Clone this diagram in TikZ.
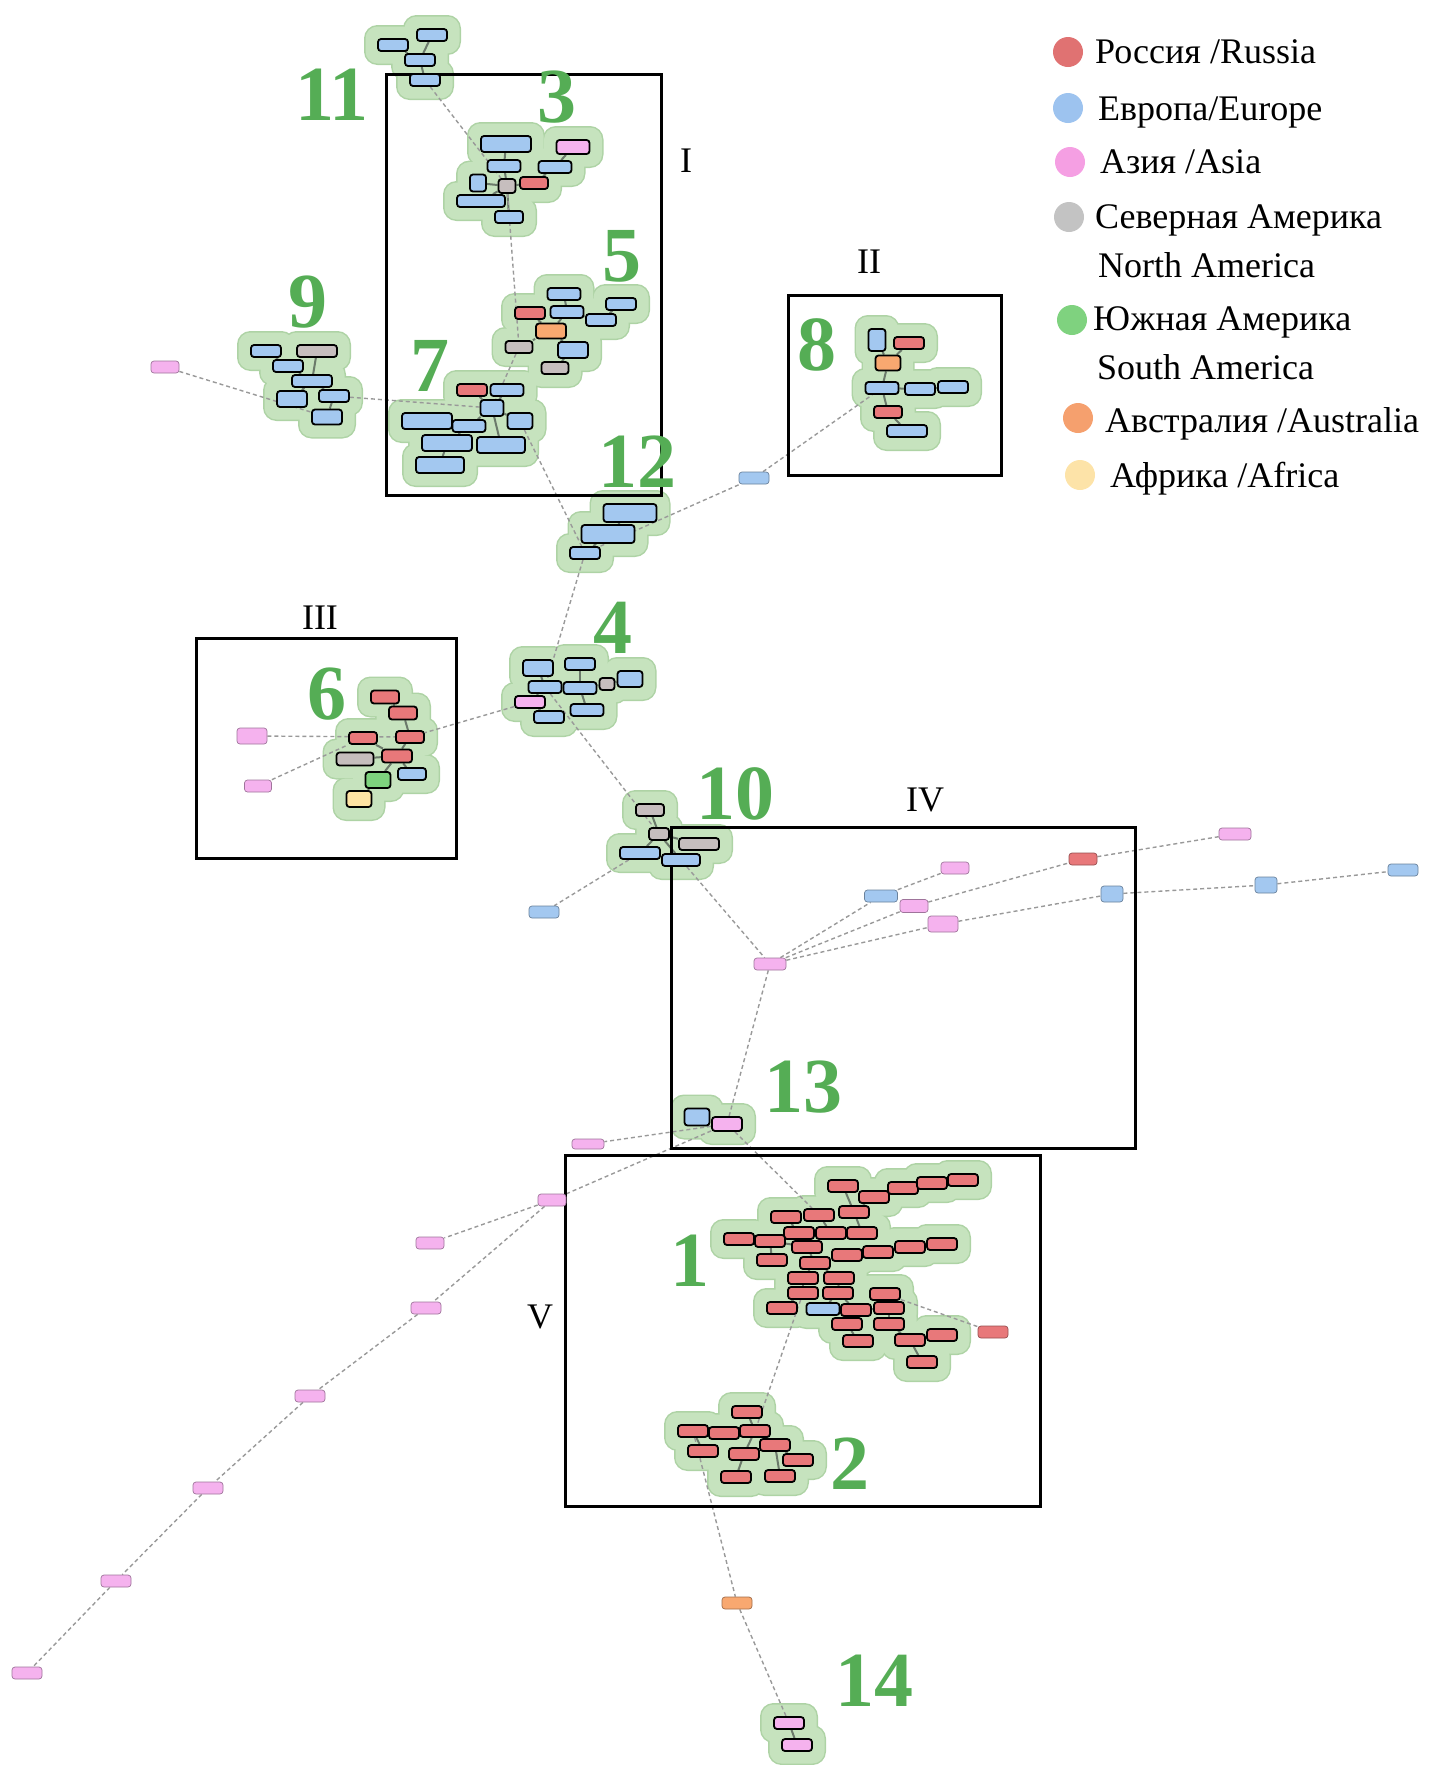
\documentclass[tikz,border=0pt]{standalone}
\usepackage{fontspec}
\setmainfont{Liberation Serif}
\pgfdeclarelayer{hl}\pgfdeclarelayer{hf}\pgfdeclarelayer{ed}
\pgfsetlayers{hl,hf,ed,main}
\definecolor{ru}{HTML}{E8787A}
\definecolor{eu}{HTML}{A3C8F0}
\definecolor{as}{HTML}{F5B2EE}
\definecolor{na}{HTML}{C6BEBE}
\definecolor{sa}{HTML}{7ED37E}
\definecolor{au}{HTML}{F8A870}
\definecolor{af}{HTML}{FDE3A3}
\definecolor{dru}{HTML}{E07272}
\definecolor{deu}{HTML}{9DC3EF}
\definecolor{das}{HTML}{F59FE3}
\definecolor{dna}{HTML}{C3C3C3}
\definecolor{dsa}{HTML}{7FD27F}
\definecolor{dau}{HTML}{F5A06E}
\definecolor{daf}{HTML}{FDE3A8}
\definecolor{halof}{HTML}{C6E3BE}
\definecolor{halod}{HTML}{AED3A5}
\definecolor{tedgec}{HTML}{6B7A6B}
\definecolor{numg}{HTML}{55AD55}
\tikzset{
  haloL/.style={rectangle,draw=halod,fill=halod,line width=3pt,rounded corners=12pt,inner sep=0pt},
  haloF/.style={rectangle,fill=halof,draw=none,rounded corners=12pt,inner sep=0pt},
  cnode/.style={rectangle,draw=black,line width=1.8pt,rounded corners=3pt,inner sep=0pt},
  snode/.style={rectangle,line width=0.7pt,rounded corners=3pt,inner sep=0pt},
  tedge/.style={draw=tedgec,line width=2pt},
  dedge/.style={draw=gray!80,line width=1.4pt,dash pattern=on 4pt off 3pt},
  bignum/.style={text=numg,font=\fontsize{78}{82}\selectfont\bfseries,inner sep=0pt},
  roman/.style={font=\fontsize{36}{40}\selectfont,inner sep=0pt},
  legtext/.style={font=\fontsize{36}{40}\selectfont,anchor=base west,inner sep=0pt},
  framebox/.style={draw=black,line width=3pt}
}
\newcommand\cn[6]{%
  \begin{pgfonlayer}{hl}\node[haloL,minimum width=#4pt+25pt,minimum height=#5pt+25pt] at (#2,#3) {};\end{pgfonlayer}%
  \begin{pgfonlayer}{hf}\node[haloF,minimum width=#4pt+25pt,minimum height=#5pt+25pt] at (#2,#3) {};\end{pgfonlayer}%
  \node[cnode,fill=#6,minimum width=#4pt,minimum height=#5pt] (#1) at (#2,#3) {};}
\newcommand\sn[6]{\node[snode,fill=#6,draw=#6!65!black,minimum width=#4pt,minimum height=#5pt] (#1) at (#2,#3) {};}
\begin{document}
\begin{tikzpicture}[x=1pt,y=-1pt]
\useasboundingbox (0,0) rectangle (1432,1765);
% frames
\draw[framebox] (386,74) rectangle (661,495);
\draw[framebox] (788,295) rectangle (1001,475);
\draw[framebox] (196,638) rectangle (456,858);
\draw[framebox] (671,827) rectangle (1135,1148);
\draw[framebox] (565,1155) rectangle (1040,1506);
\node[roman] (rI) at (686,161) {I};
\node[roman] (rII) at (869,262) {II};
\node[roman] (rIII) at (320,618) {III};
\node[roman] (rIV) at (925,800) {IV};
\node[roman] (rV) at (540,1317) {V};
% cluster 11
\cn{k1}{432}{35}{30}{12}{eu}\cn{k2}{393}{45}{30}{12}{eu}\cn{k3}{420}{60}{30}{12}{eu}\cn{k4}{425}{80}{30}{12}{eu}
% cluster 3
\cn{t1}{506}{144}{50}{16}{eu}\cn{t2}{573}{147}{33}{14}{as}\cn{t3}{504}{166}{33}{12}{eu}
\cn{t4}{555}{167}{33}{12}{eu}\cn{t5}{478}{183}{16}{17}{eu}\cn{t6}{507}{186}{17}{14}{na}
\cn{t7}{534}{183}{28}{12}{ru}\cn{t8}{481}{201}{48}{12}{eu}\cn{t9}{509}{217}{28}{12}{eu}
% cluster 5
\cn{f1}{564}{294}{33}{12}{eu}\cn{f2}{621}{304}{30}{12}{eu}\cn{f3}{567}{312}{33}{12}{eu}
\cn{f4}{601}{320}{30}{12}{eu}\cn{f5}{530}{313}{30}{12}{ru}\cn{f6}{551}{331}{30}{15}{au}
\cn{f7}{573}{350}{30}{16}{eu}\cn{f8}{519}{347}{27}{12}{na}\cn{f9}{555}{368}{27}{12}{na}
% cluster 9
\cn{n1}{266}{351}{30}{12}{eu}\cn{n2}{317}{351}{40}{12}{na}\cn{n3}{288}{366}{30}{12}{eu}
\cn{n4}{312}{381}{40}{12}{eu}\cn{n5}{292}{399}{30}{16}{eu}\cn{n6}{334}{396}{30}{12}{eu}
\cn{n7}{327}{417}{30}{15}{eu}
% cluster 7
\cn{s1}{472}{390}{30}{12}{ru}\cn{s2}{507}{390}{33}{12}{eu}\cn{s3}{492}{408}{23}{16}{eu}
\cn{s4}{427}{421}{50}{16}{eu}\cn{s5}{469}{426}{33}{12}{eu}\cn{s6}{520}{421}{25}{16}{eu}
\cn{s7}{447}{443}{50}{16}{eu}\cn{s8}{501}{445}{48}{16}{eu}\cn{s9}{440}{465}{48}{16}{eu}
% cluster 8
\cn{e1}{877}{340}{17}{22}{eu}\cn{e2}{909}{343}{30}{12}{ru}\cn{e3}{888}{363}{25}{15}{au}
\cn{e4}{882}{388}{33}{12}{eu}\cn{e5}{920}{389}{30}{12}{eu}\cn{e6}{953}{387}{30}{12}{eu}
\cn{e7}{888}{412}{28}{12}{ru}\cn{e8}{907}{431}{40}{12}{eu}
% cluster 12
\cn{w1}{630}{513}{53}{18}{eu}\cn{w2}{608}{534}{53}{18}{eu}\cn{w3}{585}{553}{30}{12}{eu}
% cluster 4
\cn{q1}{538}{668}{30}{16}{eu}\cn{q2}{580}{664}{30}{12}{eu}\cn{q3}{545}{687}{33}{12}{eu}
\cn{q4}{580}{688}{33}{12}{eu}\cn{q5}{607}{684}{15}{12}{na}\cn{q6}{630}{679}{25}{16}{eu}
\cn{q7}{530}{702}{30}{12}{as}\cn{q8}{549}{717}{30}{12}{eu}\cn{q9}{587}{710}{33}{12}{eu}
% cluster 6
\cn{x1}{385}{697}{28}{13}{ru}\cn{x2}{403}{713}{28}{13}{ru}\cn{x3}{363}{738}{28}{12}{ru}
\cn{x4}{410}{737}{28}{12}{ru}\cn{x5}{355}{759}{37}{13}{na}\cn{x6}{397}{756}{30}{13}{ru}
\cn{x7}{412}{774}{28}{12}{eu}\cn{x8}{378}{780}{25}{16}{sa}\cn{x9}{359}{799}{25}{16}{af}
% cluster 10
\cn{z1}{650}{810}{28}{12}{na}\cn{z2}{659}{834}{20}{12}{na}\cn{z3}{699}{844}{40}{12}{na}
\cn{z4}{640}{853}{40}{12}{eu}\cn{z5}{681}{860}{38}{12}{eu}
% cluster 13
\cn{m1}{697}{1117}{25}{17}{eu}\cn{m2}{727}{1124}{30}{14}{as}
% cluster 1
\cn{r1}{843}{1186}{30}{12}{ru}\cn{r2}{874}{1197}{30}{12}{ru}\cn{r3}{903}{1188}{30}{12}{ru}
\cn{r4}{932}{1183}{30}{12}{ru}\cn{r5}{963}{1180}{30}{12}{ru}\cn{r6}{786}{1217}{30}{12}{ru}
\cn{r7}{819}{1215}{30}{12}{ru}\cn{r8}{854}{1212}{30}{12}{ru}\cn{r9}{799}{1233}{30}{12}{ru}
\cn{r10}{831}{1233}{30}{12}{ru}\cn{r11}{862}{1233}{30}{12}{ru}\cn{r12}{739}{1239}{30}{12}{ru}
\cn{r13}{770}{1241}{30}{12}{ru}\cn{r14}{807}{1247}{30}{12}{ru}\cn{r15}{847}{1255}{30}{12}{ru}
\cn{r16}{878}{1252}{30}{12}{ru}\cn{r17}{910}{1247}{30}{12}{ru}\cn{r18}{942}{1244}{30}{12}{ru}
\cn{r19}{772}{1260}{30}{12}{ru}\cn{r20}{815}{1263}{30}{12}{ru}\cn{r21}{803}{1278}{30}{12}{ru}
\cn{r22}{839}{1278}{30}{12}{ru}\cn{r23}{803}{1293}{30}{12}{ru}\cn{r24}{838}{1293}{30}{12}{ru}
\cn{r25}{885}{1294}{30}{12}{ru}\cn{r26}{782}{1308}{30}{12}{ru}\cn{r27}{823}{1309}{33}{12}{eu}
\cn{r28}{856}{1310}{30}{12}{ru}\cn{r29}{889}{1308}{30}{12}{ru}\cn{r30}{847}{1324}{30}{12}{ru}
\cn{r31}{889}{1324}{30}{12}{ru}\cn{r32}{858}{1341}{30}{12}{ru}\cn{r33}{910}{1340}{30}{12}{ru}
\cn{r34}{942}{1335}{30}{12}{ru}\cn{r35}{922}{1362}{30}{12}{ru}
% cluster 2
\cn{u1}{747}{1412}{30}{12}{ru}\cn{u2}{693}{1431}{30}{12}{ru}\cn{u3}{724}{1433}{30}{12}{ru}
\cn{u4}{755}{1431}{30}{12}{ru}\cn{u5}{703}{1451}{30}{12}{ru}\cn{u6}{744}{1454}{30}{12}{ru}
\cn{u7}{775}{1445}{30}{12}{ru}\cn{u8}{798}{1460}{30}{12}{ru}\cn{u9}{736}{1477}{30}{12}{ru}
\cn{u10}{780}{1476}{30}{12}{ru}
% cluster 14
\cn{v1}{789}{1723}{30}{12}{as}\cn{v2}{797}{1745}{30}{12}{as}
% solitary nodes
\sn{L0}{165}{367}{28}{12}{as}
\sn{b12}{754}{478}{30}{12}{eu}
\sn{p6a}{252}{736}{30}{16}{as}
\sn{p6b}{258}{786}{27}{12}{as}
\sn{b10}{544}{912}{30}{12}{eu}
\sn{h0}{770}{964}{32}{12}{as}
\sn{h1}{881}{896}{33}{12}{eu}
\sn{h2}{955}{868}{28}{12}{as}
\sn{h3}{914}{906}{28}{13}{as}
\sn{h4}{943}{924}{30}{16}{as}
\sn{h5}{1083}{859}{28}{12}{ru}
\sn{h6}{1112}{894}{22}{16}{eu}
\sn{h7}{1235}{834}{32}{12}{as}
\sn{h8}{1266}{885}{22}{16}{eu}
\sn{h9}{1403}{870}{30}{12}{eu}
\sn{m3}{588}{1144}{32}{10}{as}
\sn{l1}{552}{1200}{28}{12}{as}
\sn{l2}{430}{1243}{28}{12}{as}
\sn{l3}{426}{1308}{30}{12}{as}
\sn{l4}{310}{1396}{30}{12}{as}
\sn{l5}{208}{1488}{30}{12}{as}
\sn{l6}{116}{1581}{30}{12}{as}
\sn{l7}{27}{1673}{30}{12}{as}
\sn{rs}{993}{1332}{30}{12}{ru}
\sn{o1}{737}{1603}{30}{12}{au}
% edges
\begin{pgfonlayer}{ed}
\foreach \a/\b in {k1/k3,k2/k3,k3/k4,
  t1/t3,t3/t6,t6/t5,t6/t7,t6/t8,t6/t9,t7/t4,t4/t2,
  f6/f5,f6/f3,f6/f7,f6/f8,f7/f9,f3/f1,f3/f4,f4/f2,
  n4/n2,n4/n3,n4/n5,n4/n6,n3/n1,n6/n7,
  s3/s1,s3/s2,s3/s5,s3/s8,s3/s6,s5/s4,s5/s7,s7/s9,
  e3/e1,e3/e2,e3/e4,e4/e5,e5/e6,e4/e7,e7/e8,
  w1/w2,w2/w3,
  q4/q2,q4/q3,q4/q5,q4/q9,q3/q1,q3/q7,q7/q8,q5/q6,
  x6/x4,x6/x3,x6/x5,x6/x8,x6/x7,x4/x2,x2/x1,x8/x9,
  z2/z1,z2/z4,z2/z5,z2/z3,
  r14/r9,r9/r6,r9/r10,r10/r7,r10/r11,r11/r8,r8/r1,r8/r2,r2/r3,r3/r4,r4/r5,
  r14/r13,r13/r12,r13/r19,r14/r20,r20/r15,r15/r16,r16/r17,r17/r18,
  r20/r21,r20/r22,r21/r23,r22/r24,r23/r26,r24/r27,r24/r28,r28/r30,r30/r32,
  r28/r29,r29/r25,r29/r31,r31/r33,r33/r34,r33/r35,
  u4/u1,u4/u3,u4/u6,u4/u7,u3/u2,u2/u5,u6/u9,u7/u10,u7/u8,
  v1/v2}
  {\draw[tedge] (\a) -- (\b);}
\foreach \a/\b in {k4/t6,t6/f8,f8/s3,n6/s3,L0/n7,s6/w3,w3/b12,b12/e4,w3/q3,
  q7/x4,p6a/x4,p6b/x3,q3/z2,z4/b10,z5/h0,h0/h1,h1/h2,h0/h3,h3/h5,h5/h7,
  h0/h4,h4/h6,h6/h8,h8/h9,h0/m2,m2/m3,m2/l1,l1/l2,l1/l3,l3/l4,l4/l5,l5/l6,l6/l7,
  m2/r7,r25/rs,r23/u4,u2/o1,o1/v1}
  {\draw[dedge] (\a) -- (\b);}
\end{pgfonlayer}
% cluster numbers
\node[bignum] (g11) at (332,95) {11};
\node[bignum] (g3) at (557,97) {3};
\node[bignum] (g5) at (622,256) {5};
\node[bignum] (g9) at (308,302) {9};
\node[bignum] (g7) at (430,366) {7};
\node[bignum] (g8) at (817,345) {8};
\node[bignum] (g12) at (637,462) {12};
\node[bignum] (g4) at (613,628) {4};
\node[bignum] (g6) at (327,694) {6};
\node[bignum] (g10) at (735,794) {10};
\node[bignum] (g13) at (803,1087) {13};
\node[bignum] (g1) at (690,1261) {1};
\node[bignum] (g2) at (850,1464) {2};
\node[bignum] (g14) at (874,1681) {14};
% legend
\fill[dru] (1068,52) circle (15pt);
\fill[deu] (1068,108) circle (15pt);
\fill[das] (1070,162) circle (15pt);
\fill[dna] (1069,217) circle (15pt);
\fill[dsa] (1072,320) circle (15pt);
\fill[dau] (1078,418) circle (15pt);
\fill[daf] (1080,475) circle (15pt);
\node[legtext] (lg1) at (1095,63) {Россия /Russia};
\node[legtext] (lg2) at (1098,120) {Европа/Europe};
\node[legtext] (lg3) at (1100,173) {Азия /Asia};
\node[legtext] (lg4) at (1095,228) {Северная Америка};
\node[legtext] (lg5) at (1098,277) {North America};
\node[legtext] (lg6) at (1093,330) {Южная Америка};
\node[legtext] (lg7) at (1097,379) {South America};
\node[legtext] (lg8) at (1105,432) {Австралия /Australia};
\node[legtext] (lg9) at (1110,487) {Африка /Africa};
\end{tikzpicture}
\end{document}
